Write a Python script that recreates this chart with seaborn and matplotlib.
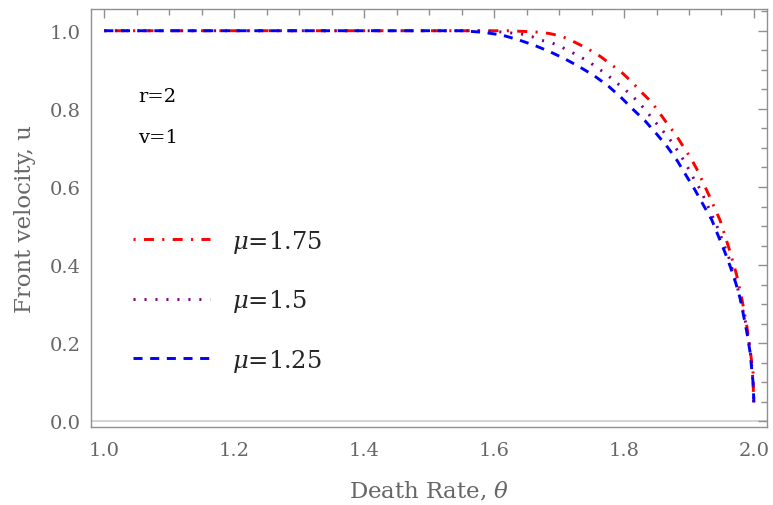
import matplotlib
matplotlib.use("Agg")
import matplotlib.pyplot as plt
from matplotlib.ticker import MultipleLocator
import seaborn as sns
import pandas as pd

# ---- data ----
theta_mu175 = [1.000, 1.620, 1.663, 1.685, 1.704, 1.725, 1.743, 1.762, 1.779, 1.796,
               1.812, 1.826, 1.842, 1.854, 1.867, 1.880, 1.891, 1.903, 1.912, 1.931,
               1.948, 1.961, 1.973, 1.982, 1.989, 1.994, 1.9985, 1.9995]
u_mu175 = [1.000, 1.000, 0.997, 0.993, 0.986, 0.970, 0.955, 0.936, 0.915, 0.894,
           0.869, 0.844, 0.818, 0.791, 0.761, 0.733, 0.704, 0.673, 0.646, 0.578,
           0.514, 0.446, 0.377, 0.308, 0.244, 0.185, 0.126, 0.045]

theta_mu15 = [1.000, 1.580, 1.609, 1.641, 1.658, 1.672, 1.689, 1.704, 1.718, 1.733,
              1.747, 1.760, 1.774, 1.787, 1.799, 1.812, 1.824, 1.834, 1.845, 1.855,
              1.866, 1.876, 1.885, 1.894, 1.909, 1.918, 1.931, 1.945, 1.962, 1.975,
              1.986, 1.994, 1.9985, 2.000]
u_mu15 = [1.000, 1.000, 0.997, 0.992, 0.985, 0.976, 0.969, 0.958, 0.946, 0.933,
          0.919, 0.904, 0.887, 0.869, 0.853, 0.834, 0.814, 0.795, 0.772, 0.753,
          0.731, 0.710, 0.686, 0.663, 0.616, 0.592, 0.544, 0.492, 0.416, 0.340,
          0.263, 0.185, 0.108, 0.045]

theta_mu125 = [1.000, 1.550, 1.583, 1.612, 1.637, 1.660, 1.685, 1.709, 1.731, 1.754,
               1.776, 1.795, 1.813, 1.832, 1.850, 1.867, 1.882, 1.895, 1.909, 1.922,
               1.935, 1.945, 1.955, 1.964, 1.972, 1.979, 1.989, 1.994, 1.9985, 2.000]
u_mu125 = [1.000, 1.000, 0.996, 0.989, 0.977, 0.964, 0.947, 0.928, 0.908, 0.885,
           0.858, 0.830, 0.800, 0.770, 0.736, 0.702, 0.667, 0.631, 0.593, 0.554,
           0.516, 0.475, 0.434, 0.394, 0.354, 0.313, 0.229, 0.177, 0.101, 0.045]

series_labels = [r"$\mu$=1.75", r"$\mu$=1.5", r"$\mu$=1.25"]
series_colors = ["#ff0000", "#800080", "#0000ff"]
x_ticks = [1.0, 1.2, 1.4, 1.6, 1.8, 2.0]
y_ticks = [0.0, 0.2, 0.4, 0.6, 0.8, 1.0]
param_texts = ["r=2", "v=1"]

# ---- styling ----
sns.set_theme(style="white")
plt.rcParams["font.family"] = ["DejaVu Serif", "DejaVu Sans"]
plt.rcParams["mathtext.fontset"] = "dejavuserif"
plt.rcParams["lines.scale_dashes"] = False

frame_c = "#8f8f8f"
label_c = "#666666"

fig = plt.figure(figsize=(7.73, 5.06), dpi=100)
ax = fig.add_axes([0.1173, 0.1547, 0.8753, 0.8255])

ax.axhline(0, color="#cccccc", lw=1.2, zorder=0)

frames = []
for th, u, lab in zip([theta_mu175, theta_mu15, theta_mu125],
                      [u_mu175, u_mu15, u_mu125], series_labels):
    frames.append(pd.DataFrame({"theta": th, "u": u, "series": lab}))
df = pd.concat(frames, ignore_index=True)

styles = [(0, (1.5, 6.0, 7.2, 6.0)), (0, (1.5, 6.4)), (0, (6.5, 5.5))]
for lab, col, ls in zip(series_labels, series_colors, styles):
    sub = df[df["series"] == lab]
    sns.lineplot(data=sub, x="theta", y="u", ax=ax, color=col, lw=2.1,
                 linestyle=ls, label=lab, sort=False, estimator=None)

ax.set_xlim(0.979, 2.0205)
ax.set_ylim(-0.0138, 1.0556)
ax.set_xticks(x_ticks)
ax.set_yticks(y_ticks)
ax.set_xticklabels([f"{t:.1f}" for t in x_ticks])
ax.set_yticklabels([f"{t:.1f}" for t in y_ticks])
ax.xaxis.set_minor_locator(MultipleLocator(0.05))
ax.yaxis.set_minor_locator(MultipleLocator(0.05))
ax.tick_params(which="both", direction="in", top=True, right=True,
               color=frame_c, width=1.0, labelcolor=label_c, labelsize=14)
ax.tick_params(which="major", length=6.2)
ax.tick_params(which="minor", length=4.0)
ax.tick_params(axis="x", which="major", pad=10)
ax.tick_params(axis="y", which="major", pad=7)
for s in ax.spines.values():
    s.set_color(frame_c)
    s.set_linewidth(1.0)

ax.set_xlabel(r"Death Rate, $\theta$", fontsize=16.5, color=label_c)
ax.set_ylabel("Front velocity, u", fontsize=16.5, color=label_c)
ax.xaxis.set_label_coords(0.5, -0.127)
ax.yaxis.set_label_coords(-0.081, 0.5)

ax.text(1.0523, 0.8208, param_texts[0], fontsize=14, color="black", va="baseline")
ax.text(1.0523, 0.716, param_texts[1], fontsize=14, color="black", va="baseline")

ax.legend(loc="upper left", bbox_to_anchor=(0.0625, 0.4767), frameon=False,
          borderaxespad=0, borderpad=0, handlelength=3.17, handletextpad=0.9,
          labelspacing=1.34, fontsize=17.5)

fig.savefig("out.png", dpi=100)
